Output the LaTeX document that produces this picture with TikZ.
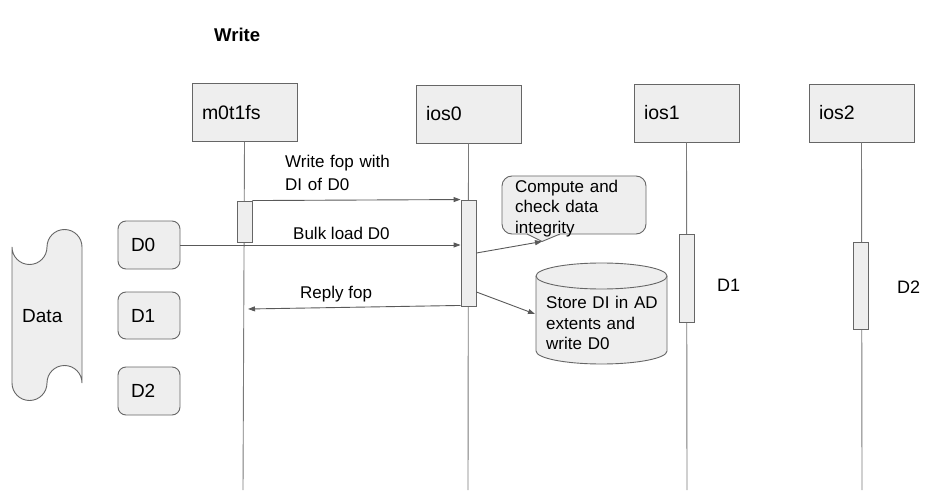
\documentclass[tikz,border=0pt]{standalone}
\usepackage{fontspec}
\setmainfont{Liberation Sans}
\usetikzlibrary{arrows.meta,calc}
\definecolor{boxfill}{HTML}{EEEEEE}
\definecolor{edge}{HTML}{666666}
\definecolor{wire}{HTML}{595959}
\definecolor{lifecol}{HTML}{7A7A7A}
\begin{document}
\begin{tikzpicture}[x=1pt,y=-1pt,
  font=\fontsize{17}{20.5}\selectfont,
  actor/.style={draw=edge, fill=boxfill, line width=0.9pt, minimum width=105pt, minimum height=58pt, text width=85pt, inner xsep=10pt, inner ysep=0pt, align=left, font=\fontsize{19.5}{23}\selectfont},
  actbar/.style={draw=edge, fill=boxfill, line width=0.9pt, minimum width=15pt, inner sep=0pt},
  lifeline/.style={draw=lifecol, line width=0.9pt},
  msg/.style={draw=wire, line width=0.9pt, -{Triangle[length=7pt,width=5pt]}},
  dbox/.style={draw=edge, fill=boxfill, rounded corners=8pt, line width=0.9pt, minimum width=62pt, text width=36pt, inner xsep=13pt, inner ysep=0pt, align=left, font=\fontsize{19}{23}\selectfont},
  lbl/.style={inner sep=0pt, anchor=base west, align=left},
  blocktxt/.style={inner sep=0pt, align=left, text width=125pt},
  shapeline/.style={draw=edge, fill=boxfill, line width=0.9pt}]
\useasboundingbox (0,0) rectangle (950,497);

% title
\node[lbl, font=\fontsize{18.5}{22}\selectfont\bfseries] (title) at (214,41.6) {Write};

% actors
\node[actor] (m)  at (244.5,112.5) {m0t1fs};
\node[actor] (i0) at (468.5,114)   {ios0};
\node[actor] (i1) at (686.5,113)   {ios1};
\node[actor] (i2) at (861.5,113)   {ios2};

\coordinate (mb)  at (243,490);
\coordinate (i0b) at (468,490);
\coordinate (i1b) at (687,490);
\coordinate (i2b) at (862,490);
\draw[lifeline] (m.south) -- (mb);
\draw[lifeline] (i0.south) -- (i0b);
\draw[lifeline] (i1.south) -- (i1b);
\draw[lifeline] (i2.south) -- (i2b);

% activation bars
\node[actbar, minimum height=41pt]  (am) at (244.5,221.5) {};
\node[actbar, minimum height=106pt] (a0) at (468.5,253)   {};
\node[actbar, minimum height=88pt]  (a1) at (686.5,278)   {};
\node[actbar, minimum height=87pt]  (a2) at (860.5,285.5) {};

% data tape
\path[shapeline] (12,247) .. controls (12,256.7) and (19.8,264.5) .. (29.5,264.5)
  .. controls (39.2,264.5) and (47,256.7) .. (47,247)
  .. controls (47,237.3) and (54.8,229.5) .. (64.5,229.5)
  .. controls (74.2,229.5) and (82,237.3) .. (82,247)
  -- (82,383)
  .. controls (82,373.3) and (74.2,365.5) .. (64.5,365.5)
  .. controls (54.8,365.5) and (47,373.3) .. (47,383)
  .. controls (47,392.7) and (39.2,400.5) .. (29.5,400.5)
  .. controls (19.8,400.5) and (12,392.7) .. (12,383) -- cycle;
\node[lbl, font=\fontsize{19}{23}\selectfont] (data) at (22,322.8) {Data};

% data blocks
\node[dbox, minimum height=48pt] (d0) at (149,245)   {D0};
\node[dbox, minimum height=47pt] (d1) at (149,315.5) {D1};
\node[dbox, minimum height=48pt] (d2) at (149,391)   {D2};

% callout
\node[draw=edge, fill=boxfill, line width=0.9pt, rounded corners=10pt, minimum width=144pt, minimum height=58pt, inner sep=0pt] (cb) at (574,205) {};
\fill[boxfill] (527.5,232.5) rectangle (559.5,235.5);
\coordinate (tipl) at (527,234);
\coordinate (tip)  at (542,241.5);
\coordinate (tipr) at (560,234);
\filldraw[draw=edge, fill=boxfill, line width=0.9pt, line join=round] (tipl) -- (tip) -- (tipr);
\node[blocktxt, anchor=north west] (ct) at (515,179.6) {Compute and\\check data\\integrity};

% cylinder
\path[shapeline] (536,276) .. controls (536,268.8) and (565.3,263) .. (601.5,263)
  .. controls (637.7,263) and (667,268.8) .. (667,276)
  -- (667,351) .. controls (667,358.2) and (637.7,364) .. (601.5,364)
  .. controls (565.3,364) and (536,358.2) .. (536,351) -- cycle;
\draw[draw=edge, line width=0.9pt] (536,276) .. controls (536,283.2) and (565.3,289) .. (601.5,289)
  .. controls (637.7,289) and (667,283.2) .. (667,276);
\coordinate (cyl) at (535,314);
\node[blocktxt, anchor=west] (st) at (546,323.4) {Store DI in AD\\extents and\\write D0};

% messages
\draw[msg] (am.north east) -- (a0.north west);
\node[blocktxt, anchor=west, font=\fontsize{17}{23}\selectfont] (wf) at (285,173.4) {Write fop with\\DI of D0};
\draw[msg] (d0.east) -- (d0.east -| a0.west);
\node[lbl] (bl) at (293,239.1) {Bulk load D0};
\coordinate (rf) at (248,309);
\draw[msg] ($(a0.south west)+(0,-1)$) -- (rf);
\node[lbl] (rp) at (300,298.1) {Reply fop};
\draw[msg] (a0.east) -- (tip);
\draw[msg] ($(a0.east)+(0,39)$) -- (cyl);

% side labels
\node[lbl, font=\fontsize{18}{22}\selectfont] (l1) at (717,291.4) {D1};
\node[lbl, font=\fontsize{18}{22}\selectfont] (l2) at (897,293.4) {D2};
\end{tikzpicture}
\end{document}
